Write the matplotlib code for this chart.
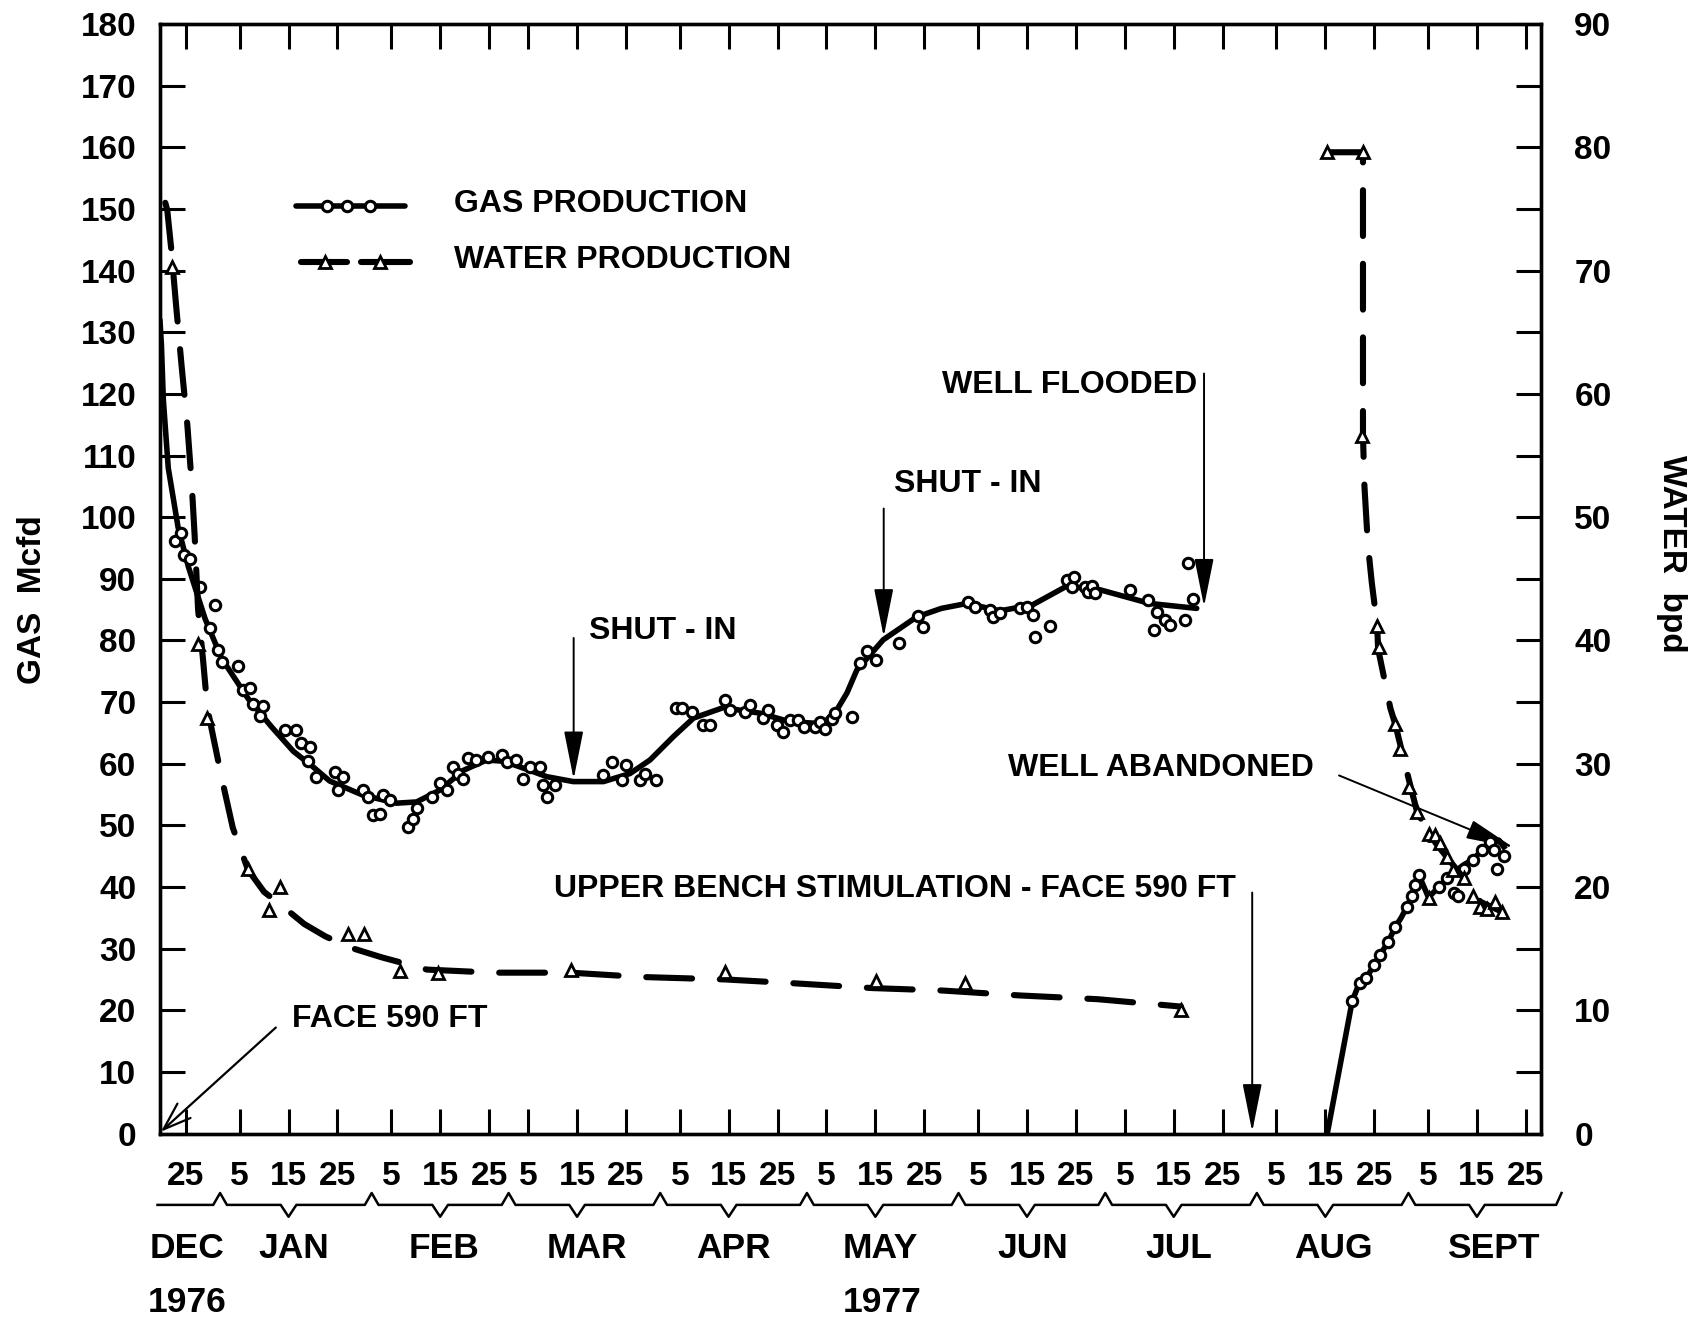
import numpy as np
import matplotlib
matplotlib.use("Agg")
import matplotlib.pyplot as plt
import matplotlib.transforms as mtransforms
from matplotlib.ticker import FixedLocator, MultipleLocator

plt.rcParams['font.family'] = ['Liberation Sans', 'DejaVu Sans']
plt.rcParams['font.weight'] = 'bold'
plt.rcParams['lines.scale_dashes'] = False

# x values are days counted from 1 Jan 1977 (Dec 25 1976 = -7)
# ---- gas production, daily points (Mcfd) ----
gas_day = [-9.3, -8.0, -7.4, -6.2, -4.1, -2.1, -1.1, -0.4, 0.3, 3.7, 4.7, 6.1, 6.8, 8.1, 8.8,
           13.2, 15.6, 16.6, 18.0, 18.4, 19.7, 23.5, 24.2, 25.2, 29.3, 30.3, 31.3, 32.7, 33.4,
           34.7, 38.5, 39.5, 40.2, 43.3, 44.9, 46.3, 47.7, 48.7, 49.7, 50.7, 52.4, 54.8, 57.6,
           58.6, 60.6, 62.0, 63.4, 65.4, 66.0, 66.8, 68.5, 78.4, 80.1, 82.1, 83.1, 85.9, 86.9,
           89.1, 93.3, 94.4, 96.4, 98.8, 100.2, 103.2, 104.3, 107.3, 108.4, 111.0, 112.1, 113.8,
           115.2, 116.5, 118.2, 119.3, 121.7, 122.7, 123.7, 125.1, 125.7, 129.2, 130.8, 132.3,
           134.1, 138.9, 142.8, 143.7, 153.0, 154.4, 157.4, 158.1, 159.5, 163.6, 165.0, 166.2,
           166.7, 169.7, 173.1, 174.2, 174.6, 176.9, 177.5, 178.2, 179.0, 186.1, 189.8, 191.0,
           191.5, 193.2, 194.3, 197.3, 198.0, 198.9,
           231.5, 233.0, 234.4, 235.9, 237.2, 238.8, 240.3, 242.7, 243.7, 244.4, 245.1, 249.2,
           250.9, 252.4, 253.2, 254.3, 256.3, 258.0, 259.7, 260.5, 261.1, 262.5]
gas_mcfd = [96.1, 97.4, 93.9, 93.2, 88.7, 82.0, 85.8, 78.4, 76.5, 75.8, 72.0, 72.3, 69.7, 67.8, 69.4,
            65.5, 65.5, 63.3, 60.4, 62.7, 57.8, 58.7, 55.7, 57.9, 55.7, 54.6, 51.7, 51.9, 54.9,
            54.1, 49.8, 51.1, 52.8, 54.6, 56.8, 55.7, 59.5, 58.4, 57.6, 60.9, 60.6, 61.1, 61.4,
            60.3, 60.6, 57.6, 59.5, 59.5, 56.5, 54.6, 56.5, 58.2, 60.2, 57.3, 59.8, 57.3, 58.3,
            57.3, 69.0, 69.0, 68.4, 66.3, 66.3, 70.3, 68.7, 68.4, 69.5, 67.4, 68.7, 66.3,
            65.2, 67.1, 67.1, 66.0, 66.0, 66.8, 65.7, 67.2, 68.3, 67.6, 76.4, 78.3,
            76.9, 79.6, 83.9, 82.1, 86.3, 85.4, 84.9, 83.8, 84.5, 85.3, 85.4, 84.1,
            80.6, 82.3, 89.8, 88.6, 90.3, 88.7, 87.9, 88.9, 87.7, 88.2, 86.5, 81.7,
            84.6, 83.3, 82.5, 83.3, 92.5, 86.7,
            21.5, 24.5, 25.2, 27.3, 29.0, 31.0, 33.5, 36.8, 38.6, 40.3, 42.0, 40.0,
            41.4, 39.0, 38.5, 43.0, 44.3, 46.0, 47.3, 46.0, 43.0, 45.1]

# ---- gas production, drawn trend line ----
gas_fit_day = [-12.3, -12.0, -11.6, -10.6, -8.6, -6.5, -3.1, 0.3, 5.7, 10.5, 15.0, 19.0, 22.4,
               29.2, 36.1, 40.2, 44.9, 49.7, 54.5, 58.0, 63.4, 66.8, 72.2, 78.4, 83.8, 87.9,
               92.7, 96.8, 102.9, 110.4, 116.5, 123.3, 126.1, 128.2, 130.2, 135.6, 142.4, 147.5,
               152.7, 159.5, 166.2, 173.1, 180.0, 190.1, 199.7]
gas_fit = [132, 128, 119, 108, 98.4, 92.0, 83.6, 77.1, 70.6, 66.0, 62.0, 59.5, 57.2,
           54.9, 53.6, 53.8, 55.7, 58.9, 60.6, 60.4, 58.9, 57.9, 57.1, 57.1, 58.4, 60.6,
           64.4, 67.4, 69.1, 68.2, 66.8, 66.5, 68.7, 71.5, 75.2, 80.1, 83.8, 85.2,
           86.0, 84.8, 85.8, 88.8, 88.2, 86.0, 85.2]
gas_late_day = [226.4, 231.5, 233.0, 234.4, 235.9, 237.2, 238.8, 240.3, 241.5, 242.7, 243.7, 244.4,
                245.1, 247.1, 249.2, 250.9, 252.5, 254.3, 256.3, 258.0, 259.7, 261.5, 262.5]
gas_late = [0, 21.5, 24.5, 25.2, 27.3, 29.0, 31.0, 33.5, 35.0, 36.8, 38.6, 40.3,
            42.0, 38.3, 40.0, 41.4, 42.5, 43.6, 44.5, 46.0, 47.3, 47.6, 46.5]

# ---- water production (bpd) ----
water_day = [-9.9, -4.5, -2.6, 5.7, 10.0, 12.2, 26.2, 29.4, 36.8, 44.5, 71.8, 103.2, 134.2, 152.3, 196.5,
             226.4, 233.7, 233.4, 236.6, 236.9, 240.3, 241.3, 243.2, 244.7, 247.1, 247.1, 248.5,
             249.5, 250.9, 252.2, 254.3, 256.3, 257.7, 259.0, 260.7, 262.1]
water_bpd = [70.3, 39.7, 33.7, 21.5, 18.1, 20.0, 16.2, 16.2, 13.2, 13.05, 13.3, 13.1, 12.4, 12.2, 10.05,
             79.6, 79.6, 56.6, 41.2, 39.5, 33.2, 31.2, 28.1, 26.1, 24.3, 19.1, 24.2,
             23.6, 22.4, 21.4, 20.7, 19.3, 18.4, 18.2, 18.8, 18.0]
water_fit_day = [-11.2, -10.8, -10.0, -9.0, -7.9, -6.7, -5.8, -5.2, -4.5, -3.5, -2.6, 0.3, 2.6,
                 5.7, 9.0, 12.9, 17.2, 21.5, 26.5, 33.0, 42.3, 55.9, 71.7, 86.1, 103.3, 116.9,
                 133.4, 147.8, 163.6, 179.4, 196.5]
water_fit = [75.5, 74.9, 71.8, 67.2, 62.4, 57.5, 52.7, 48.5, 42.5, 38.5, 34.5, 28.9, 24.8,
             21.4, 19.6, 18.4, 17.0, 16.0, 15.1, 14.3, 13.3, 13.05, 13.05, 12.7, 12.5, 12.2,
             11.8, 11.6, 11.2, 10.9, 10.3]
water_late_day = [226.4, 233.7, 233.7, 234.0, 234.7, 235.5, 236.6, 236.8, 239.3, 240.3, 243.4,
                  244.7, 247.1, 250.9, 254.3, 257.7, 262.1]
water_late = [79.6, 79.6, 56.6, 52.5, 47.8, 44.7, 41.2, 39.3, 34.5, 33.2, 28.2,
              26.2, 24.3, 22.4, 20.7, 18.8, 18.0]

# ---- axis text ----
base = np.datetime64('1977-01-01')
tick_dates = ['1976-12-25'] + ['1977-%02d-%02d' % (m, d) for m in range(1, 10) for d in (5, 15, 25)]
tick_days = [int((np.datetime64(t) - base).astype(int)) for t in tick_dates]
tick_labels = [t[-2:].lstrip('0') for t in tick_dates]
month_names = ['DEC', 'JAN', 'FEB', 'MAR', 'APR', 'MAY', 'JUN', 'JUL', 'AUG', 'SEPT']
month_label_day = [-6.8, 15.1, 45.7, 74.9, 105.0, 135.0, 166.2, 196.1, 227.7, 260.3]
month_starts = [int((np.datetime64('1977-%02d-01' % m) - base).astype(int)) for m in range(1, 10)]
years = ['1976', '1977']
year_day = [-6.8, 135.3]

GAS_LW = 4.0
WATER_LW = 4.4
DASH = (33, 20)

fig = plt.figure(figsize=(16.96, 13.21), dpi=100)
ax = fig.add_axes([0.0943, 0.1419, 0.8143, 0.8399])
ax2 = ax.twinx()

ax.set_xlim(-12.3, 270.1)
ax.set_ylim(0, 180)
ax2.set_ylim(0, 90)

# gas
ax.plot(gas_fit_day, gas_fit, color='black', lw=GAS_LW, solid_joinstyle='round', solid_capstyle='round', zorder=3)
ax.plot(gas_late_day, gas_late, color='black', lw=GAS_LW, solid_joinstyle='round', zorder=3)
ax.plot(gas_day, gas_mcfd, 'o', ms=7.5, mfc='white', mec='black', mew=2.2, zorder=4, clip_on=False)

# water
ax2.plot(water_fit_day, water_fit, color='black', lw=WATER_LW, dashes=DASH, dash_capstyle='round', zorder=3)
ax2.plot(water_late_day, water_late, color='black', lw=WATER_LW, dashes=DASH, dash_capstyle='round', zorder=3)
ax2.plot(water_day, water_bpd, '^', ms=9, mfc='white', mec='black', mew=2.0, zorder=4, clip_on=False)

# axes styling
for a in (ax, ax2):
    for sp in a.spines.values():
        sp.set_linewidth(2.4)
ax.xaxis.set_major_locator(FixedLocator(tick_days))
ax.set_xticklabels(tick_labels)
ax.yaxis.set_major_locator(MultipleLocator(10))
ax.tick_params(axis='x', which='major', direction='in', length=18, width=2.2,
               top=True, bottom=True, labelsize=24, pad=20)
ax.tick_params(axis='y', which='major', direction='in', length=18, width=2.2,
               left=True, right=False, labelsize=24, pad=17)
ax2.yaxis.set_major_locator(MultipleLocator(10))
ax2.yaxis.set_minor_locator(MultipleLocator(5))
ax2.tick_params(axis='y', which='both', direction='in', length=18, width=2.2,
                right=True, labelsize=24, pad=24)
for lab in ax.get_xticklabels() + ax.get_yticklabels() + ax2.get_yticklabels():
    lab.set_fontweight('bold')

# month bracket under the day labels
trans = mtransforms.blended_transform_factory(ax.transData, ax.transAxes)
y0, ypk, yvl = -0.0643, -0.0536, -0.0750
bx, by = [-12.8], [y0]
for s in month_starts:
    bx += [s - 1.4, s, s + 1.4, s + 14 - 1.6, s + 14, s + 14 + 1.6]
    by += [y0, ypk, y0, y0, yvl, y0]
bx += [273.2, 274.3]
by += [y0, ypk]
ax.plot(bx, by, color='black', lw=1.8, transform=trans, clip_on=False)

for name, d in zip(month_names, month_label_day):
    ax.text(d, -0.104, name, transform=trans, ha='center', va='center', fontsize=25.5, fontweight='bold')
for name, d in zip(years, year_day):
    ax.text(d, -0.152, name, transform=trans, ha='center', va='center', fontsize=25.5, fontweight='bold')

# axis titles
fig.text(0.0189, 0.5458, 'GAS  Mcfd', rotation=90, ha='center', va='center', fontsize=24, fontweight='bold')
fig.text(0.9853, 0.5806, 'WATER  bpd', rotation=270, ha='center', va='center', fontsize=24, fontweight='bold')

# legend
ax.plot([0.0983, 0.1778], [0.8363, 0.8363], color='black', lw=GAS_LW, transform=ax.transAxes, solid_capstyle='round')
ax.plot([0.1212, 0.1358, 0.1519], [0.8363] * 3, 'o', ms=7.5, mfc='white', mec='black', mew=2.2, transform=ax.transAxes)
for xs in ([0.1018, 0.1355], [0.1455, 0.1809]):
    ax.plot(xs, [0.7856, 0.7856], color='black', lw=WATER_LW, transform=ax.transAxes, solid_capstyle='round')
ax.plot([0.1194, 0.1597], [0.7856] * 2, '^', ms=9, mfc='white', mec='black', mew=2.0, transform=ax.transAxes)
ax.text(0.213, 0.8382, 'GAS PRODUCTION', transform=ax.transAxes, ha='left', va='center', fontsize=23, fontweight='bold')
ax.text(0.213, 0.7875, 'WATER PRODUCTION', transform=ax.transAxes, ha='left', va='center', fontsize=23, fontweight='bold')

# annotations
head = dict(arrowstyle='-|>,head_length=1.5,head_width=0.3', color='black', lw=1.4,
            shrinkA=0, shrinkB=0, mutation_scale=20)
openhead = dict(arrowstyle='->,head_length=1.0,head_width=0.35', color='black', lw=1.6,
                shrinkA=0, shrinkB=0, mutation_scale=20)

ax.annotate('', xy=(-12.1, 0.3), xytext=(11.4, 17.2), arrowprops=openhead, annotation_clip=False)
ax.text(14.7, 18.6, 'FACE 590 FT', ha='left', va='center', fontsize=23, fontweight='bold')

ax.annotate('', xy=(72.3, 57.5), xytext=(72.3, 80.4), arrowprops=head)
ax.text(75.5, 81.6, 'SHUT - IN', ha='left', va='center', fontsize=23, fontweight='bold')

ax.annotate('', xy=(135.7, 80.6), xytext=(135.7, 101.4), arrowprops=head)
ax.text(137.9, 105.4, 'SHUT - IN', ha='left', va='center', fontsize=23, fontweight='bold')

ax.annotate('', xy=(201.2, 85.5), xytext=(201.2, 123.3), arrowprops=head)
ax.text(199.9, 121.4, 'WELL FLOODED', ha='right', va='center', fontsize=23, fontweight='bold')

ax.annotate('', xy=(211.05, 0.3), xytext=(211.05, 39.1), arrowprops=head)
ax.text(207.8, 39.6, 'UPPER BENCH STIMULATION - FACE 590 FT', ha='right', va='center', fontsize=23, fontweight='bold')

ax.annotate('', xy=(264.5, 46.4), xytext=(228.8, 58.1), arrowprops=head)
ax.text(161.1, 59.3, 'WELL ABANDONED', ha='left', va='center', fontsize=23, fontweight='bold')

fig.savefig('out.png', dpi=100, facecolor='white')
